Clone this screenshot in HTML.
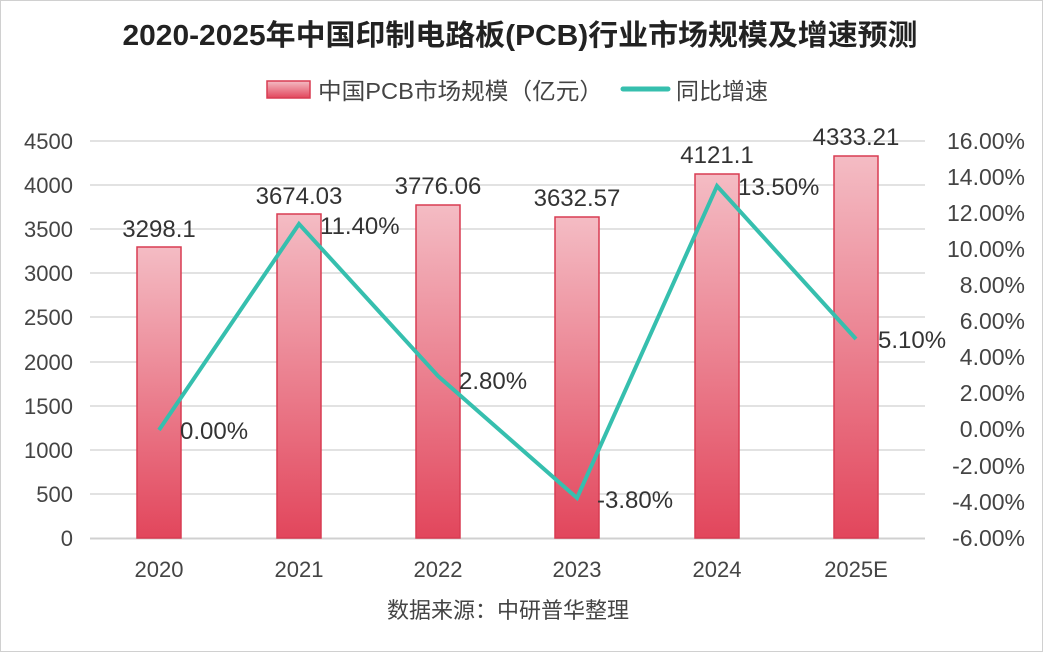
<!DOCTYPE html>
<html><head><meta charset="utf-8"><style>
html,body{margin:0;padding:0;background:#fff;}
svg{display:block;font-family:"Liberation Sans","Noto Sans CJK SC",sans-serif;}
</style></head><body>
<svg width="1043" height="652" viewBox="0 0 1043 652" xmlns="http://www.w3.org/2000/svg">
<defs>
<linearGradient id="g" x1="0" y1="0" x2="0" y2="1">
<stop offset="0" stop-color="#f4bcc4"/><stop offset="1" stop-color="#e2465c"/>
</linearGradient>
</defs>
<rect x="0.5" y="0.5" width="1042" height="651" fill="#fff" stroke="#d0d0d0"/>
<text x="520" y="45" text-anchor="middle" font-size="29" font-weight="bold" fill="#222" textLength="795" lengthAdjust="spacingAndGlyphs">2020-2025年中国印制电路板(PCB)行业市场规模及增速预测</text>
<rect x="267" y="81" width="43" height="17" fill="url(#g)" stroke="#d83c52" stroke-width="1.5"/>
<text x="318" y="99" font-size="23" fill="#444" textLength="285" lengthAdjust="spacingAndGlyphs">中国PCB市场规模（亿元）</text>
<line x1="623" y1="89" x2="668" y2="89" stroke="#36bfae" stroke-width="5" stroke-linecap="round"/>
<text x="676" y="99" font-size="23" fill="#444">同比增速</text>
<g stroke="#d9d9d9" stroke-width="1.5">
<line x1="90" y1="141" x2="925" y2="141"/><line x1="90" y1="185" x2="925" y2="185"/>
<line x1="90" y1="229" x2="925" y2="229"/><line x1="90" y1="273" x2="925" y2="273"/>
<line x1="90" y1="317" x2="925" y2="317"/><line x1="90" y1="362" x2="925" y2="362"/>
<line x1="90" y1="406" x2="925" y2="406"/><line x1="90" y1="450" x2="925" y2="450"/>
<line x1="90" y1="494" x2="925" y2="494"/>
</g>
<line x1="90" y1="538.5" x2="925" y2="538.5" stroke="#d0d0d0" stroke-width="2"/>
<g font-size="22" fill="#444" text-anchor="end">
<text x="73" y="149">4500</text><text x="73" y="193">4000</text><text x="73" y="237">3500</text>
<text x="73" y="281">3000</text><text x="73" y="325">2500</text><text x="73" y="370">2000</text>
<text x="73" y="414">1500</text><text x="73" y="458">1000</text><text x="73" y="502">500</text>
<text x="73" y="546">0</text>
</g>
<g font-size="23" fill="#444" text-anchor="end">
<text x="1025" y="149">16.00%</text><text x="1025" y="185">14.00%</text><text x="1025" y="221">12.00%</text>
<text x="1025" y="257">10.00%</text><text x="1025" y="293">8.00%</text><text x="1025" y="329">6.00%</text>
<text x="1025" y="365">4.00%</text><text x="1025" y="401">2.00%</text><text x="1025" y="437">0.00%</text>
<text x="1025" y="474">-2.00%</text><text x="1025" y="510">-4.00%</text><text x="1025" y="546">-6.00%</text>
</g>
<g fill="url(#g)" stroke="#d83c52" stroke-width="1.5">
<rect x="137" y="247" width="44" height="291"/>
<rect x="277" y="214" width="44" height="324"/>
<rect x="416" y="205" width="44" height="333"/>
<rect x="555" y="217" width="44" height="321"/>
<rect x="695" y="174" width="44" height="364"/>
<rect x="834" y="156" width="44" height="382"/>
</g>
<g font-size="22" fill="#444" text-anchor="middle">
<text x="159" y="577">2020</text><text x="299" y="577">2021</text><text x="438" y="577">2022</text>
<text x="577" y="577">2023</text><text x="717" y="577">2024</text><text x="856" y="577">2025E</text>
</g>
<polyline points="159,430 299,224 438,376 577,498 717,186 856,339" fill="none" stroke="#36bfae" stroke-width="4" stroke-linejoin="miter"/>
<g font-size="24" fill="#333" text-anchor="middle">
<text x="159" y="237">3298.1</text><text x="299" y="204">3674.03</text><text x="438" y="194">3776.06</text>
<text x="577" y="206">3632.57</text><text x="717" y="163">4121.1</text><text x="856" y="145">4333.21</text>
</g>
<g font-size="24" fill="#333">
<text x="180" y="439">0.00%</text><text x="320" y="234">11.40%</text><text x="459" y="389">2.80%</text>
<text x="597" y="508">-3.80%</text><text x="738" y="195">13.50%</text><text x="878" y="348">5.10%</text>
</g>
<text x="508" y="618" text-anchor="middle" font-size="22" fill="#444">数据来源：中研普华整理</text>
</svg>
</body></html>
